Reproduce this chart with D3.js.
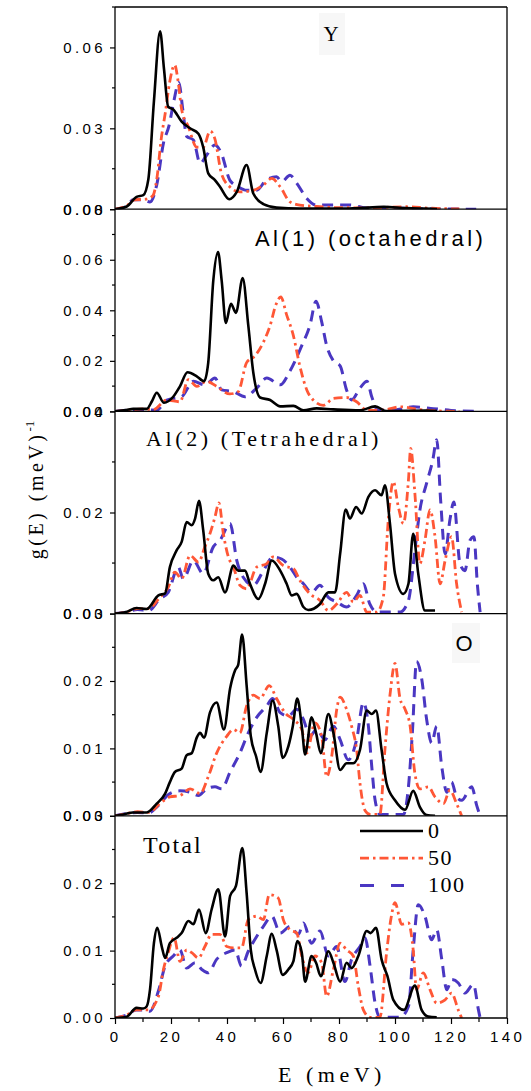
<!DOCTYPE html>
<html>
<head>
<meta charset="utf-8">
<script src="https://cdn.jsdelivr.net/npm/d3@7"></script>
<style>
  body { margin: 0; background: #fff; }
  svg { display: block; }
</style>
</head>
<body>
<div id="chart"></div>
<script>
// values, [E (meV), g(E)]
const y_0 = [[0,0],[4.2,0.001],[7.7,0.0046],[10.1,0.0052],[11.9,0.011],[13.9,0.040],[16.1,0.066],[17.5,0.052],[19,0.038],[20.8,0.037],[23.8,0.0325],[26.8,0.030],[29.8,0.028],[31.5,0.023],[33.3,0.0133],[35.7,0.0108],[37.5,0.0083],[40.8,0.0037],[43.5,0.0064],[47,0.0164],[49.4,0.0058],[53,0.0019],[57.7,0.0006],[66,0.0002],[85,0.0003],[96,0.0009],[104,0.0004],[111,0.0002],[115,0.0001]];
const y_50 = [[0,0],[4,0.0012],[7,0.0035],[11,0.0037],[13.5,0.005],[14.9,0.011],[16.5,0.026],[18,0.036],[19.5,0.047],[21.3,0.0535],[22.6,0.047],[23.8,0.037],[26.2,0.0306],[29.2,0.023],[31.5,0.023],[34,0.029],[35.7,0.026],[38,0.0133],[41,0.0083],[44.6,0.0064],[49.4,0.007],[53,0.009],[56,0.0114],[59,0.0083],[62.5,0.0027],[66,0.0015],[72,0.001],[79,0.0006],[90,0.0005],[104,0.0009],[112,0.0004],[123,0.0001]];
const y_100 = [[0,0],[4,0.001],[6.5,0.0035],[10,0.0035],[12.5,0.0027],[15,0.0095],[17.3,0.0245],[19.3,0.031],[21,0.040],[22.8,0.047],[24.2,0.037],[25.6,0.027],[28,0.0257],[30.4,0.017],[32.7,0.020],[35.7,0.0238],[38,0.0207],[41,0.0108],[44,0.0083],[47,0.007],[50.6,0.007],[54,0.0108],[57.7,0.012],[59.5,0.0102],[62.5,0.0126],[65,0.0095],[68.5,0.004],[72,0.0015],[79,0.0016],[84,0.0016],[90,0.0004],[95,0.0006],[105,0.0003],[129,0]];

const al1_0 = [[0,0],[4,0.0005],[6.5,0.001],[11.3,0.001],[13.2,0.004],[14.9,0.0074],[17.5,0.0034],[20.8,0.0058],[23.2,0.0099],[25.9,0.0155],[29.2,0.0139],[31.8,0.0119],[33.3,0.0193],[35.1,0.0517],[36.8,0.063],[38.1,0.0517],[39.6,0.035],[41.4,0.0426],[43.2,0.039],[45.6,0.0528],[47.6,0.034],[49.4,0.0153],[51.8,0.0055],[55.4,0.0045],[59,0.002],[63.7,0.0022],[67.3,0.0004],[72,0.0012],[78,0.0008],[87.5,0.0004],[92.9,0.002],[97,0.0001],[111,0.0003],[115,0.0001]];
const al1_50 = [[0,0],[5,0.0005],[10,0.001],[13.7,0.0007],[18.5,0.0045],[23.2,0.0038],[26.2,0.0126],[29.2,0.0099],[32.7,0.0119],[36.3,0.0099],[41,0.0069],[44,0.0078],[47,0.0193],[50,0.022],[53,0.0274],[55.4,0.034],[57.5,0.0423],[59.2,0.0453],[61.3,0.0382],[63.7,0.030],[66,0.018],[68.5,0.0085],[70.8,0.0045],[74.4,0.0024],[78,0.0051],[82.7,0.0055],[86.3,0.0038],[90,0.0004],[96,0.0006],[102,0.0018],[108,0.0008],[113.7,0.0003],[123,0]];
const al1_100 = [[0,0],[5,0.0005],[10,0.0006],[14.9,0.0005],[18.5,0.0045],[23.8,0.0058],[28,0.0119],[32.1,0.0105],[35.7,0.0132],[38.1,0.0085],[42.3,0.0078],[46.4,0.0058],[50.6,0.0092],[54.2,0.0132],[59,0.0105],[62.5,0.016],[66.7,0.026],[69.6,0.034],[71.8,0.0436],[73.8,0.0355],[75.6,0.026],[78,0.020],[80.4,0.018],[82.7,0.0085],[84.5,0.0045],[87.5,0.0092],[90,0.0119],[91.7,0.0058],[94,0.0004],[100,0.0006],[106.5,0.0018],[113.7,0.0011],[120,0.0004],[129,0]];

const al2_0 = [[0,0],[4,0.0003],[7.7,0.0011],[11.3,0.0009],[15.5,0.0036],[17.9,0.004],[19.6,0.0092],[22,0.0125],[23.8,0.0142],[25.6,0.0181],[27.4,0.0175],[28.6,0.0188],[30,0.0223],[31.5,0.0165],[33.3,0.0079],[35.1,0.0066],[36.9,0.0072],[39.3,0.0042],[42.3,0.0095],[44,0.0085],[46.4,0.0085],[48.2,0.0059],[51.2,0.0029],[53.6,0.0059],[56,0.0105],[59,0.0085],[61.3,0.0059],[63.1,0.0036],[64.9,0.0039],[67.3,0.0013],[69,0.0007],[73.2,0.0019],[76.2,0.0042],[78.6,0.0042],[80.4,0.0118],[82.4,0.0206],[83.9,0.0188],[86.1,0.0211],[88.1,0.0198],[90.5,0.0231],[92.9,0.0244],[95.2,0.0234],[96.4,0.0254],[98.2,0.0178],[100,0.0079],[103,0.0039],[104.8,0.0059],[106.5,0.0158],[108.3,0.0079],[110.7,0.0006],[114.3,0.0006]];
const al2_50 = [[0,0],[4,0.0003],[8,0.001],[12,0.001],[16,0.0032],[19,0.0052],[21.4,0.0082],[23.8,0.0069],[26.8,0.0115],[29.8,0.0102],[32.1,0.0132],[33.9,0.0158],[35.7,0.0191],[37.1,0.0219],[38.7,0.0158],[40.5,0.0112],[42.3,0.0092],[44.6,0.0056],[47,0.0049],[50.6,0.0092],[54.2,0.0099],[56.5,0.0112],[60.1,0.0095],[63.7,0.0089],[66,0.0066],[69.6,0.0039],[73.2,0.0026],[76.2,0.0006],[79.2,0.0019],[82.7,0.0042],[85.1,0.0023],[87.5,0.0036],[89.9,0.0003],[93.5,0.0003],[95.8,0.0032],[97.6,0.0185],[99.4,0.0261],[101.2,0.0211],[103,0.0178],[104.8,0.0264],[105.6,0.0327],[107.1,0.0238],[108.9,0.0099],[110.7,0.0145],[112.5,0.0205],[114.3,0.0152],[116.1,0.0059],[117.9,0.0105],[120.2,0.0152],[122,0.0059],[123.8,0.0003]];
const al2_100 = [[0,0],[4,0.0003],[8,0.0008],[12,0.0006],[16,0.0029],[19,0.0042],[22.6,0.0092],[24.4,0.0069],[28,0.0105],[31.5,0.0079],[35.1,0.0132],[37.5,0.0145],[41.1,0.0178],[43.5,0.0105],[45.8,0.0072],[49.4,0.0056],[53,0.0085],[56.5,0.0112],[59.5,0.0108],[62.5,0.0092],[64.9,0.0072],[67.3,0.0059],[70.2,0.0042],[73.2,0.0056],[76.2,0.0032],[79.2,0.0023],[82.7,0.0013],[86.3,0.0036],[88.7,0.0059],[91,0.0019],[93.5,0.0003],[101.8,0.0003],[104.8,0.0026],[107.1,0.0125],[108.9,0.0205],[111.3,0.0258],[113.5,0.0304],[114.9,0.0344],[116.3,0.0224],[117.9,0.0118],[119.6,0.0185],[121,0.0221],[123.2,0.0099],[125,0.0085],[126.8,0.0145],[128.2,0.0152],[129.4,0.0059],[130.4,0.0003]];

const o_0 = [[0,0],[3,0.0002],[6.5,0.0005],[11.3,0.0005],[14.9,0.0018],[17.9,0.0033],[19.6,0.005],[21.4,0.0065],[23.8,0.007],[25.6,0.009],[27.4,0.0093],[29.2,0.0116],[30.4,0.0123],[31.8,0.0116],[33.9,0.0153],[36.3,0.0168],[38.9,0.0128],[41.1,0.0189],[42.9,0.0216],[44,0.0224],[45.4,0.0269],[47,0.0194],[48.5,0.0118],[50.4,0.0088],[52,0.0065],[54.2,0.0123],[56.3,0.0171],[58.3,0.0133],[59.9,0.0086],[61.9,0.0103],[63.5,0.0133],[65.1,0.0174],[66.7,0.0133],[67.9,0.0091],[70.2,0.0146],[71.8,0.0123],[73.5,0.0093],[76.2,0.0151],[78,0.0123],[80.4,0.0068],[82.7,0.0078],[85.1,0.0078],[87.5,0.0098],[89.9,0.0156],[91.7,0.0151],[93.2,0.0156],[95.2,0.0098],[97,0.0048],[100,0.0023],[103.6,0.0009],[106.5,0.0037],[108.9,0.0013],[111.3,0.0001],[114.3,0]];
const o_50 = [[0,0],[4,0.0003],[8,0.0006],[12,0.0005],[16,0.0018],[19.6,0.0028],[23.2,0.003],[26.8,0.004],[30.4,0.0033],[33.3,0.0058],[36.3,0.0093],[39.9,0.0118],[42.3,0.0128],[44.6,0.0123],[47,0.0163],[49.4,0.0179],[51.8,0.0174],[55.1,0.0193],[57.7,0.0174],[60.7,0.0153],[63.7,0.0143],[66.7,0.0128],[68.5,0.0093],[71.4,0.0138],[73.8,0.0118],[75.6,0.0058],[77.4,0.0088],[79.2,0.0158],[80.4,0.0176],[82.7,0.0158],[84.5,0.0133],[86.3,0.0098],[87.5,0.0048],[89.3,0.0008],[91.1,0.0002],[94.6,0.0002],[96.4,0.0098],[98.2,0.0179],[100,0.0226],[101.8,0.0174],[103.6,0.0158],[105.4,0.0133],[107.1,0.0063],[108.9,0.004],[111.9,0.0043],[114.3,0.0028],[117.3,0.0018],[119.6,0.0038],[122,0.0018],[123.8,0]];
const o_100 = [[0,0],[4,0.0003],[8,0.0005],[12,0.0004],[14.9,0.0013],[19.6,0.0033],[23.2,0.0037],[26.8,0.0035],[29.8,0.003],[32.7,0.004],[35.7,0.0043],[38.1,0.004],[41.1,0.0065],[44.6,0.0093],[47.6,0.0123],[50.6,0.0146],[54.2,0.0163],[56.3,0.0174],[59,0.0153],[61.9,0.0148],[64.9,0.0158],[67.3,0.0143],[69.6,0.0118],[72,0.0128],[75,0.0113],[78,0.0133],[80.4,0.0113],[83.3,0.0083],[86.3,0.0113],[88.7,0.0168],[90.5,0.0133],[91.7,0.0073],[92.9,0.0023],[94.6,0.0002],[103,0.0002],[104.8,0.0043],[106.2,0.0123],[107.7,0.0229],[109.5,0.0204],[111.3,0.0143],[113.1,0.0108],[114.9,0.0133],[116.7,0.0073],[118.5,0.0035],[120.2,0.005],[122,0.0028],[123.8,0.0023],[127.4,0.0043],[129.2,0.0015],[130.4,0]];

const tot_0 = [[0,0],[4.2,0.0002],[7.7,0.0015],[10.1,0.0014],[11.3,0.0017],[12.5,0.0042],[13.9,0.0111],[15.1,0.0134],[16.7,0.0106],[17.9,0.0089],[19.6,0.0111],[22,0.0119],[23.8,0.0126],[26.2,0.0144],[28,0.0139],[30,0.0161],[32.4,0.0126],[34.5,0.0161],[36.9,0.0191],[39.3,0.0121],[41.1,0.0181],[43.2,0.0196],[45.5,0.0252],[47,0.0186],[48.5,0.0101],[50,0.0072],[52,0.0052],[54.2,0.0092],[56,0.0125],[57.7,0.0101],[59.9,0.0064],[61.9,0.0072],[63.7,0.0084],[65.1,0.0114],[66.7,0.0097],[67.9,0.0054],[70.2,0.0092],[71.8,0.0082],[73.5,0.0062],[76.2,0.0099],[78,0.0082],[80.4,0.0054],[82.7,0.0082],[84.5,0.0074],[86.9,0.0092],[89.9,0.0129],[91.3,0.0126],[93.2,0.0134],[95.2,0.0087],[97.3,0.0062],[99.4,0.0027],[103.2,0.0012],[107.1,0.0048],[109.5,0.0012],[111.9,0.0002],[114.9,0.0001]];
const tot_50 = [[0,0],[4,0.0004],[7.5,0.0012],[12,0.0012],[15.5,0.0032],[17.3,0.0072],[19,0.0097],[21.1,0.0119],[23.2,0.0084],[25.6,0.0101],[27.4,0.0097],[29.8,0.0089],[32.1,0.0106],[34.5,0.0124],[37.5,0.0124],[39.9,0.0106],[42.3,0.0104],[45.2,0.0104],[47.6,0.0146],[50.6,0.0151],[53,0.0146],[55.1,0.0183],[58.3,0.0178],[60.1,0.0146],[62.5,0.0131],[64.9,0.0126],[66.7,0.0092],[69,0.0067],[71.4,0.0092],[73.8,0.0082],[75.6,0.0032],[78,0.0072],[80.4,0.0111],[82.7,0.0101],[85.1,0.0092],[86.9,0.0047],[88.7,0.0012],[91.1,0.0001],[94.6,0.0001],[97,0.0097],[98.5,0.0146],[100,0.0171],[102.4,0.0139],[104.8,0.0141],[106.5,0.0101],[107.7,0.0042],[110.1,0.0067],[112.5,0.0042],[114.9,0.0022],[117.9,0.0027],[120.2,0.0037],[122.6,0.0012],[123.8,0]];
const tot_100 = [[0,0],[4,0.0004],[7.5,0.0012],[10.5,0.0012],[12.5,0.001],[15.5,0.004],[17.9,0.0077],[20.8,0.0092],[23.2,0.0101],[25.6,0.0074],[28.6,0.0082],[31,0.0072],[33.3,0.0067],[36.3,0.0087],[39.9,0.0097],[42.9,0.0101],[45.2,0.0077],[47.6,0.0099],[50.6,0.0121],[53,0.0136],[56,0.0151],[59,0.0126],[62.5,0.0136],[65.5,0.0124],[67.3,0.0141],[70.2,0.0111],[73.2,0.0129],[76.2,0.0092],[79.2,0.0106],[82.1,0.0054],[84.5,0.0087],[87.5,0.0106],[89.3,0.0119],[91.1,0.0077],[92.9,0.0022],[94.6,0.0001],[101.8,0.0001],[104.8,0.0017],[106.5,0.0101],[108.3,0.0168],[110.7,0.0151],[113.1,0.0116],[114.9,0.0131],[116.7,0.0087],[118.5,0.0042],[120.2,0.0057],[122.6,0.0052],[125,0.0037],[128,0.005],[129.8,0.0012],[130.4,0]];

const panel_names = ["Y", "Al(1) (octahedral)", "Al(2) (Tetrahedral)", "O", "Total"];
const panel_max = [0.075, 0.08, 0.04, 0.03, 0.03];
const panel_major = [0.03, 0.02, 0.02, 0.01, 0.01];
const panel_series = [
    [y_0, y_50, y_100],
    [al1_0, al1_50, al1_100],
    [al2_0, al2_50, al2_100],
    [o_0, o_50, o_100],
    [tot_0, tot_50, tot_100]
];
const series_names = ["0", "50", "100"];
const x_ticks = [0, 20, 40, 60, 80, 100, 120, 140];

const width = 531;
const height = 1091;
const plot_left = 115;
const plot_right = 507;
const plot_top = 7;
const panel_height = 202.2;

const series_color = ["#000000", "#ff5736", "#4a37c2"];
const series_dash = [null, "9,4,2.5,4", "11,7"];
const legend_dash = [null, "9,4,2.5,4", "14,17,13,40"];
const series_width = [2.6, 2.8, 3];

const sans = "'Liberation Sans', Arial, sans-serif";
const serif = "'Liberation Serif', 'Times New Roman', serif";

const x = d3.scaleLinear().domain([0, 140]).range([plot_left, plot_right]);

const svg = d3.select("#chart").append("svg")
    .attr("width", width)
    .attr("height", height)
    .attr("viewBox", [0, 0, width, height]);

// label boxes as in the original figure
const label_style = [
    {x: 331, y: 41, font: serif, size: 21, spacing: 0, anchor: "middle", box: [319, 13, 26, 42]},
    {x: 255, y: 246, font: sans, size: 22, spacing: 3.4, anchor: "start"},
    {x: 146, y: 446, font: serif, size: 22, spacing: 3.6, anchor: "start"},
    {x: 464, y: 651, font: sans, size: 22, spacing: 0, anchor: "middle", box: [452, 623, 28, 40]},
    {x: 143, y: 853, font: serif, size: 24, spacing: 2.2, anchor: "start"}
];

panel_names.forEach((name, i) => {
    const top = plot_top + i * panel_height;
    const bottom = top + panel_height;
    const y = d3.scaleLinear().domain([0, panel_max[i]]).range([bottom, top]);
    const g = svg.append("g");

    const clip_id = `clip-${i}`;
    svg.append("clipPath").attr("id", clip_id)
        .append("rect")
        .attr("x", plot_left).attr("y", top - 2)
        .attr("width", plot_right - plot_left).attr("height", panel_height + 2);

    const ls = label_style[i];
    if (ls.box) {
        g.append("rect")
            .attr("x", ls.box[0]).attr("y", ls.box[1])
            .attr("width", ls.box[2]).attr("height", ls.box[3])
            .attr("fill", "#f7f7f7");
    }

    const line = d3.line()
        .x(d => x(d[0]))
        .y(d => y(d[1]))
        .curve(d3.curveMonotoneX);

    const curves = g.append("g").attr("clip-path", `url(#${clip_id})`);
    [2, 1, 0].forEach(s => {
        curves.append("path")
            .datum(panel_series[i][s])
            .attr("fill", "none")
            .attr("stroke", series_color[s])
            .attr("stroke-width", series_width[s])
            .attr("stroke-dasharray", series_dash[s])
            .attr("stroke-linejoin", "round")
            .attr("d", line);
    });

    // left axis
    const major = d3.range(0, panel_max[i] + 1e-9, panel_major[i]);
    const minor = d3.range(panel_major[i] / 2, panel_max[i] + 1e-9, panel_major[i]);
    const axis = d3.axisLeft(y)
        .tickValues(major)
        .tickFormat(d3.format(".2f"))
        .tickSize(5)
        .tickPadding(4);
    const ag = g.append("g")
        .attr("transform", `translate(${plot_left},0)`)
        .call(axis);
    ag.select(".domain").remove();
    ag.selectAll("text")
        .attr("font-family", sans)
        .attr("font-size", 15)
        .attr("letter-spacing", 3.4)
        .attr("fill", "#000");
    ag.selectAll("line").attr("stroke-width", 1.2);
    g.append("g").selectAll("line")
        .data(minor)
        .join("line")
        .attr("x1", plot_left - 3).attr("x2", plot_left)
        .attr("y1", d => y(d)).attr("y2", d => y(d))
        .attr("stroke", "#000").attr("stroke-width", 1.2);

    // zero line / panel separator
    g.append("line")
        .attr("x1", plot_left).attr("x2", plot_right)
        .attr("y1", bottom).attr("y2", bottom)
        .attr("stroke", "#000").attr("stroke-width", 1.3);

    g.append("text")
        .attr("x", ls.x).attr("y", ls.y)
        .attr("font-family", ls.font)
        .attr("font-size", ls.size)
        .attr("letter-spacing", ls.spacing)
        .attr("text-anchor", ls.anchor)
        .text(name);
});

const plot_bottom = plot_top + 5 * panel_height;

// frame
svg.append("line")
    .attr("x1", plot_left).attr("x2", plot_right)
    .attr("y1", plot_top).attr("y2", plot_top)
    .attr("stroke", "#000").attr("stroke-width", 1.3);
svg.append("line")
    .attr("x1", plot_left).attr("x2", plot_left)
    .attr("y1", plot_top).attr("y2", plot_bottom)
    .attr("stroke", "#000").attr("stroke-width", 1.3);
svg.append("line")
    .attr("x1", plot_right).attr("x2", plot_right)
    .attr("y1", plot_top).attr("y2", plot_bottom)
    .attr("stroke", "#000").attr("stroke-width", 1.3);

// bottom axis
const xaxis = svg.append("g")
    .attr("transform", `translate(0,${plot_bottom})`)
    .call(d3.axisBottom(x).tickValues(x_ticks).tickSize(6).tickPadding(7).tickFormat(d3.format("d")));
xaxis.select(".domain").remove();
xaxis.selectAll("line").attr("stroke-width", 1.2);
xaxis.selectAll("text")
    .attr("font-family", sans)
    .attr("font-size", 15)
    .attr("letter-spacing", 3.4)
    .attr("fill", "#000");
svg.append("g").selectAll("line")
    .data(d3.range(10, 140, 20))
    .join("line")
    .attr("x1", d => x(d)).attr("x2", d => x(d))
    .attr("y1", plot_bottom).attr("y2", plot_bottom + 4)
    .attr("stroke", "#000").attr("stroke-width", 1.2);

svg.append("text")
    .attr("x", 332).attr("y", 1082)
    .attr("text-anchor", "middle")
    .attr("font-family", serif)
    .attr("font-size", 22)
    .attr("letter-spacing", 4.5)
    .text("E (meV)");

const ylab = svg.append("text")
    .attr("transform", "translate(43,490) rotate(-90)")
    .attr("text-anchor", "middle")
    .attr("font-family", serif)
    .attr("font-size", 20)
    .attr("letter-spacing", 3.5);
ylab.append("tspan").text("g(E) (meV)");
ylab.append("tspan")
    .attr("dy", -9)
    .attr("font-size", 13)
    .attr("letter-spacing", 0)
    .text("-1");

// legend
const legend = svg.append("g");
series_names.forEach((name, s) => {
    const ly = 831 + s * 27.2;
    legend.append("line")
        .attr("x1", 360).attr("x2", 423)
        .attr("y1", ly).attr("y2", ly)
        .attr("stroke", series_color[s])
        .attr("stroke-width", series_width[s])
        .attr("stroke-dasharray", legend_dash[s]);
    legend.append("text")
        .attr("x", 428).attr("y", ly + 7)
        .attr("font-family", serif)
        .attr("font-size", 22)
        .attr("letter-spacing", 1.5)
        .text(name);
});
</script>
</body>
</html>
